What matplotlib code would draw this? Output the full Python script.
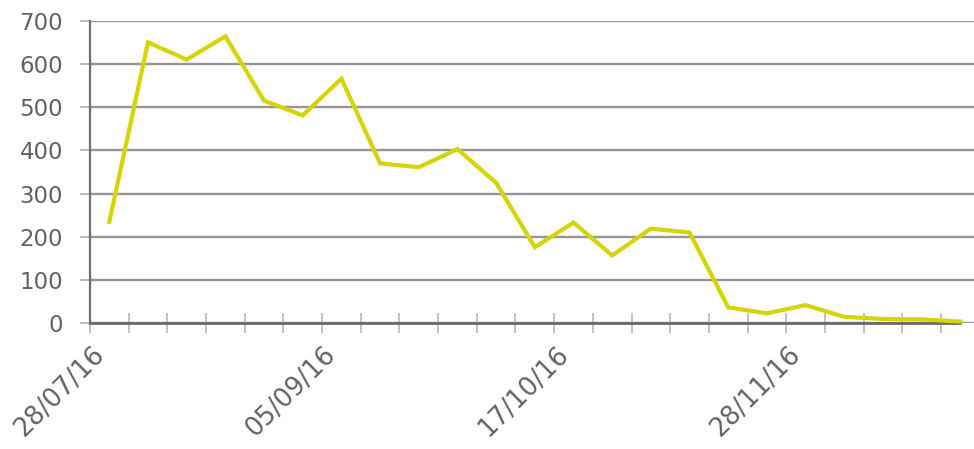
import matplotlib
matplotlib.use("Agg")
import matplotlib.pyplot as plt

values = [235, 650, 610, 664, 515, 481, 566, 370, 361, 403, 325, 176, 233,
          157, 219, 210, 37, 23, 42, 15, 10, 9, 4]
label_positions = [0, 6, 12, 18]
date_labels = ["28/07/16", "05/09/16", "17/10/16", "28/11/16"]
y_ticks = [0, 100, 200, 300, 400, 500, 600, 700]

plt.rcParams['font.family'] = ['DejaVu Sans']

fig = plt.figure(figsize=(9.74, 4.49), dpi=100)
W, H = 974, 449
left_px, right_px, top_px, bottom_px = 90, 974, 20.7, 323.3
ax = fig.add_axes([left_px / W, 1 - bottom_px / H,
                   (right_px - left_px) / W, (bottom_px - top_px) / H])

n = len(values)
x = list(range(n))
ax.plot(x, values, color='#d4d406', linewidth=3.0, solid_joinstyle='miter',
        zorder=3, clip_on=False)

spacing = 38.68
ax.set_xlim(-0.5, -0.5 + (right_px - left_px) / spacing)
ax.set_ylim(0, 700)

grid_col = '#969696'
text_col = '#626262'
ax.set_yticks(y_ticks)
ax.set_yticklabels([str(v) for v in y_ticks])
ax.yaxis.grid(True, color=grid_col, linewidth=1.7)
ax.set_axisbelow(True)
ax.tick_params(axis='y', direction='out', length=7.5, width=1.2,
               color='#b0b0b0', labelsize=16.5, labelcolor=text_col, pad=12)

ax.set_xticks([k - 0.5 for k in range(n)])
ax.set_xticklabels([])
ax.tick_params(axis='x', which='major', direction='inout', length=15,
               width=1.2, color='#b8b8b8')
ax.set_xticks(label_positions, minor=True)
ax.set_xticklabels(date_labels, minor=True, rotation=45, ha='right', va='top')
ax.tick_params(axis='x', which='minor', length=0, labelsize=18.5,
               labelcolor=text_col, pad=13)

for s in ['top', 'right']:
    ax.spines[s].set_visible(False)
ax.spines['left'].set_color('#707070')
ax.spines['left'].set_linewidth(1.6)
ax.spines['bottom'].set_color('#6a6a6a')
ax.spines['bottom'].set_linewidth(2.0)
ax.spines['bottom'].set_bounds(-0.5, n - 1)

fig.savefig("out.png", dpi=100)
